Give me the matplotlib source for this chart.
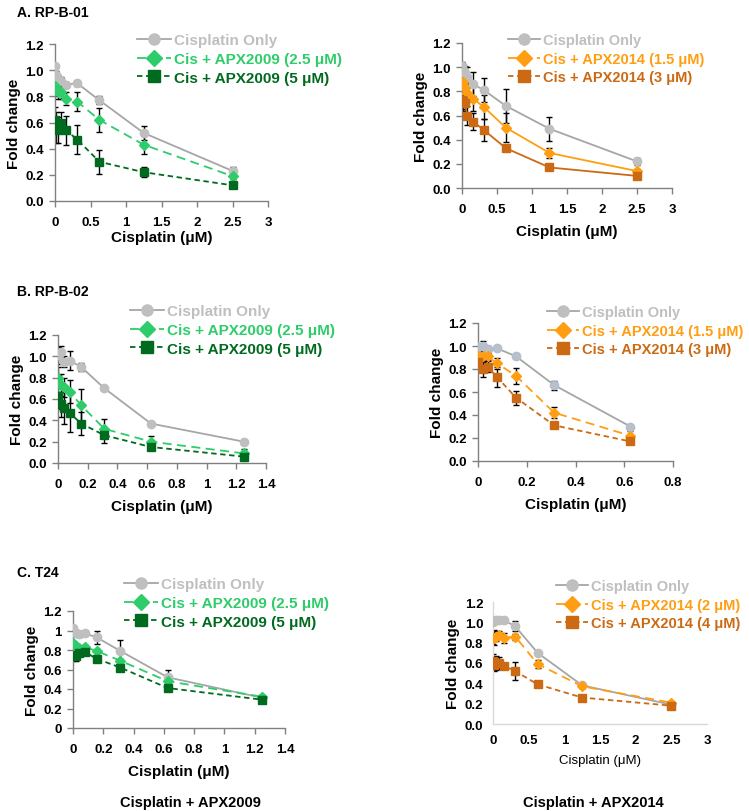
import matplotlib
matplotlib.use('Agg')
import matplotlib.pyplot as plt
from matplotlib.lines import Line2D

plt.rcParams['font.family'] = ['Liberation Sans', 'DejaVu Sans']

W, H = 749, 812

# concentrations (uM)
x_a = [0, 0.0195, 0.039, 0.078, 0.156, 0.3125, 0.625, 1.25, 2.5]
x_b = [0, 0.0195, 0.039, 0.078, 0.156, 0.3125, 0.625, 1.25]
x_b2 = [0, 0.0195, 0.039, 0.078, 0.156, 0.3125, 0.625]
x_c = [0, 0.0195, 0.039, 0.078, 0.156, 0.3125, 0.625, 1.25]
x_c2 = [0, 0.0195, 0.039, 0.078, 0.156, 0.3125, 0.625, 1.25, 2.5]

# A. RP-B-01, APX2009
a1_cis = [1.03, 0.96, 0.93, 0.92, 0.89, 0.90, 0.77, 0.52, 0.23]
a1_cis_err = [0.02, 0.03, 0.03, 0.03, 0.02, 0.02, 0.03, 0.05, 0.03]
a1_lo = [0.88, 0.85, 0.83, 0.83, 0.78, 0.76, 0.62, 0.43, 0.19]
a1_lo_err = [0.04, 0.05, 0.05, 0.05, 0.05, 0.07, 0.09, 0.07, 0.02]
a1_hi = [0.62, 0.56, 0.54, 0.60, 0.54, 0.47, 0.30, 0.22, 0.12]
a1_hi_err = [0.10, 0.12, 0.10, 0.08, 0.11, 0.11, 0.09, 0.04, 0.02]
# A. RP-B-01, APX2014
a2_cis = [1.01, 0.98, 0.95, 0.92, 0.86, 0.81, 0.68, 0.49, 0.22]
a2_cis_err = [0.03, 0.05, 0.06, 0.08, 0.10, 0.10, 0.14, 0.10, 0.03]
a2_lo = [0.87, 0.88, 0.83, 0.79, 0.74, 0.67, 0.50, 0.29, 0.14]
a2_lo_err = [0.05, 0.08, 0.08, 0.08, 0.10, 0.10, 0.12, 0.04, 0.02]
a2_hi = [0.73, 0.72, 0.70, 0.60, 0.55, 0.48, 0.33, 0.17, 0.10]
a2_hi_err = [0.08, 0.08, 0.08, 0.08, 0.07, 0.09, 0.02, 0.02, 0.02]

# B. RP-B-02
b1_cis = [1.01, 1.04, 0.95, 0.96, 0.90, 0.70, 0.37, 0.20]
b1_cis_err = [0.08, 0.06, 0.05, 0.09, 0.04, 0.01, 0.01, 0.01]
b1_lo = [0.80, 0.73, 0.71, 0.67, 0.54, 0.32, 0.20, 0.09]
b1_lo_err = [0.10, 0.10, 0.09, 0.11, 0.15, 0.09, 0.05, 0.04]
b1_hi = [0.63, 0.55, 0.52, 0.47, 0.37, 0.26, 0.15, 0.06]
b1_hi_err = [0.12, 0.12, 0.15, 0.18, 0.11, 0.07, 0.03, 0.02]
b2_cis = [0.99, 1.00, 0.97, 0.98, 0.91, 0.66, 0.30]
b2_cis_err = [0.02, 0.04, 0.03, 0.01, 0.01, 0.04, 0.01]
b2_lo = [0.91, 0.91, 0.91, 0.85, 0.74, 0.42, 0.22]
b2_lo_err = [0.03, 0.05, 0.03, 0.05, 0.07, 0.05, 0.04]
b2_hi = [0.86, 0.80, 0.82, 0.73, 0.55, 0.31, 0.17]
b2_hi_err = [0.06, 0.07, 0.05, 0.09, 0.06, 0.02, 0.01]

# C. T24
c1_cis = [1.03, 0.97, 0.96, 0.97, 0.93, 0.79, 0.52, 0.31]
c1_cis_err = [0.01, 0.03, 0.03, 0.02, 0.07, 0.11, 0.07, 0.03]
c1_lo = [0.87, 0.84, 0.82, 0.83, 0.79, 0.69, 0.48, 0.32]
c1_lo_err = [0.02, 0.02, 0.02, 0.02, 0.02, 0.02, 0.02, 0.02]
c1_hi = [0.74, 0.74, 0.77, 0.78, 0.71, 0.62, 0.41, 0.29]
c1_hi_err = [0.05, 0.05, 0.03, 0.03, 0.02, 0.02, 0.02, 0.02]
c2_cis = [1.00, 1.01, 1.02, 1.02, 1.02, 0.96, 0.70, 0.38, 0.19]
c2_cis_err = [0.01, 0.02, 0.03, 0.02, 0.02, 0.05, 0.01, 0.02, 0.01]
c2_lo = [0.85, 0.85, 0.86, 0.88, 0.85, 0.86, 0.59, 0.37, 0.21]
c2_lo_err = [0.06, 0.07, 0.04, 0.03, 0.05, 0.03, 0.04, 0.02, 0.01]
c2_hi = [0.62, 0.58, 0.60, 0.60, 0.57, 0.52, 0.39, 0.26, 0.18]
c2_hi_err = [0.07, 0.06, 0.07, 0.06, 0.02, 0.09, 0.01, 0.01, 0.01]

GRAY = '#BFBFBF'
GRAY_LINE = '#A6A6A6'
GREEN = '#2ECC6A'
DKGREEN = '#006B1E'
ORANGE = '#FF9E12'
DKORANGE = '#CC6A14'


def px_axes(fig, l, r, b, t):
    return fig.add_axes([l / W, 1 - b / H, (r - l) / W, (b - t) / H])


def style_axes(ax, xmax, xstep, yfmt='%.1f', light=False, tick_size=9.5):
    ax.set_xlim(0, xmax)
    ax.set_ylim(0, 1.2)
    ax.spines['top'].set_visible(False)
    ax.spines['right'].set_visible(False)
    col = '#D9D9D9' if light else '#808080'
    for s in ('left', 'bottom'):
        ax.spines[s].set_color(col)
        ax.spines[s].set_linewidth(1.0)
    ticks = [i * xstep for i in range(int(round(xmax / xstep)) + 1)]
    ax.set_xticks(ticks)
    ax.set_xticklabels(['%g' % t for t in ticks])
    yt = [0, 0.2, 0.4, 0.6, 0.8, 1.0, 1.2]
    ax.set_yticks(yt)
    if yfmt == 'g':
        ax.set_yticklabels(['%g' % v for v in yt])
    else:
        ax.set_yticklabels([yfmt % v for v in yt])
    tl = 0 if light else 4
    ax.tick_params(axis='both', direction='out', length=tl, width=1.0, color=col,
                   labelsize=tick_size)
    ax.tick_params(axis='x', pad=7)
    ax.tick_params(axis='y', pad=4 if not light else 7)
    for lab in ax.get_xticklabels() + ax.get_yticklabels():
        lab.set_fontweight('bold')


def draw_series(ax, x, y, err, color, marker, ls, ms, mfc=None, mec=None, lcolor=None):
    ax.errorbar(x, y, yerr=err, fmt='none', ecolor='black', elinewidth=1.0,
                capsize=2, capthick=1.0, zorder=2)
    ax.plot(x, y, color=lcolor or color, ls=ls, lw=1.3, marker=marker, ms=ms,
            mfc=mfc or color, mec=mec or color, zorder=3)


def add_legend(fig, labels, colors, markers, styles, left_px, top_px, lcolors=None, size=11):
    handles = []
    for i in range(3):
        lc = lcolors[i] if lcolors else colors[i]
        handles.append(Line2D([], [], color=lc, ls=styles[i], lw=1.3,
                              marker=markers[i], ms=8, mfc=colors[i], mec=colors[i]))
    leg = fig.legend(handles, labels, loc='upper left',
                     bbox_to_anchor=(left_px / W, 1 - top_px / H),
                     frameon=False, borderpad=0, borderaxespad=0,
                     handlelength=2.2, handletextpad=0.2, labelspacing=0.32,
                     prop={'size': size, 'weight': 'bold'})
    for t, c in zip(leg.get_texts(), colors):
        t.set_color(c)
    return leg


fig = plt.figure(figsize=(W / 100, H / 100), dpi=100)

labels_2009 = ['Cisplatin Only', 'Cis + APX2009 (2.5 \u03bcM)', 'Cis + APX2009 (5 \u03bcM)']
cols_2009 = [GRAY, GREEN, DKGREEN]
cols_2014 = [GRAY, ORANGE, DKORANGE]
mks = ['o', 'D', 's']
dash_lo = (0, (5, 3))
dash_hi = (0, (3, 2))
styles = ['-', dash_lo, dash_hi]

# ---- A left ----
ax = px_axes(fig, 55, 268, 202, 45)
style_axes(ax, 3, 0.5)
draw_series(ax, x_a, a1_cis, a1_cis_err, GRAY, 'o', '-', 6, lcolor=GRAY_LINE)
draw_series(ax, x_a, a1_lo, a1_lo_err, GREEN, 'D', dash_lo, 5)
draw_series(ax, x_a, a1_hi, a1_hi_err, DKGREEN, 's', dash_hi, 6)
ax.set_xlabel('Cisplatin (\u03bcM)', fontsize=11, fontweight='bold', labelpad=1)
ax.set_ylabel('Fold change', fontsize=11, fontweight='bold', labelpad=3)
add_legend(fig, labels_2009, cols_2009, mks, styles, 137, 34, [GRAY_LINE, GREEN, DKGREEN])

# ---- A right ----
ax = px_axes(fig, 462, 672, 189, 44)
style_axes(ax, 3, 0.5)
draw_series(ax, x_a, a2_cis, a2_cis_err, GRAY, 'o', '-', 6, lcolor=GRAY_LINE)
draw_series(ax, x_a, a2_lo, a2_lo_err, ORANGE, 'D', '-', 5)
draw_series(ax, x_a, a2_hi, a2_hi_err, DKORANGE, 's', '-', 6)
ax.set_xlabel('Cisplatin (\u03bcM)', fontsize=11, fontweight='bold', labelpad=6)
ax.set_ylabel('Fold change', fontsize=11, fontweight='bold', labelpad=3)
add_legend(fig, ['Cisplatin Only', 'Cis + APX2014 (1.5 \u03bcM)', 'Cis + APX2014 (3 \u03bcM)'],
           cols_2014, mks, styles, 508, 34, [GRAY_LINE, ORANGE, DKORANGE], size=10.5)

# ---- B left ----
ax = px_axes(fig, 58, 266, 464, 336)
style_axes(ax, 1.4, 0.2)
draw_series(ax, x_b, b1_cis, b1_cis_err, GRAY, 'o', '-', 6, lcolor=GRAY_LINE)
draw_series(ax, x_b, b1_lo, b1_lo_err, GREEN, 'D', dash_lo, 5)
draw_series(ax, x_b, b1_hi, b1_hi_err, DKGREEN, 's', dash_hi, 6)
ax.set_xlabel('Cisplatin (\u03bcM)', fontsize=11, fontweight='bold', labelpad=6)
ax.set_ylabel('Fold change', fontsize=11, fontweight='bold', labelpad=3)
add_legend(fig, labels_2009, cols_2009, mks, styles, 130, 305, [GRAY_LINE, GREEN, DKGREEN])

# ---- B right ----
ax = px_axes(fig, 478, 673, 462, 324)
style_axes(ax, 0.8, 0.2)
draw_series(ax, x_b2, b2_cis, b2_cis_err, GRAY, 'o', '-', 6, mec='#A9C0DC', lcolor=GRAY_LINE)
draw_series(ax, x_b2, b2_lo, b2_lo_err, ORANGE, 'D', dash_lo, 5)
draw_series(ax, x_b2, b2_hi, b2_hi_err, DKORANGE, 's', dash_hi, 6)
ax.set_xlabel('Cisplatin (\u03bcM)', fontsize=11, fontweight='bold', labelpad=6)
ax.set_ylabel('Fold change', fontsize=11, fontweight='bold', labelpad=3)
add_legend(fig, ['Cisplatin Only', 'Cis + APX2014 (1.5 \u03bcM)', 'Cis + APX2014 (3 \u03bcM)'],
           cols_2014, mks, styles, 547, 306, [GRAY_LINE, ORANGE, DKORANGE], size=10.5)

# ---- C left ----
ax = px_axes(fig, 73, 285, 729, 612)
style_axes(ax, 1.4, 0.2, yfmt='g')
draw_series(ax, x_c, c1_cis, c1_cis_err, GRAY, 'o', '-', 6, lcolor=GRAY_LINE)
draw_series(ax, x_c, c1_lo, c1_lo_err, GREEN, 'D', dash_lo, 5)
draw_series(ax, x_c, c1_hi, c1_hi_err, DKGREEN, 's', dash_hi, 6)
ax.set_xlabel('Cisplatin (\u03bcM)', fontsize=11, fontweight='bold', labelpad=6)
ax.set_ylabel('Fold change', fontsize=11, fontweight='bold', labelpad=3)
add_legend(fig, labels_2009, cols_2009, mks, styles, 124, 578, [GRAY_LINE, GREEN, DKGREEN])

# ---- C right ----
ax = px_axes(fig, 493, 707, 725, 603)
style_axes(ax, 3, 0.5, light=True)
draw_series(ax, x_c2, c2_cis, c2_cis_err, GRAY, 'o', '-', 6, lcolor=GRAY_LINE)
draw_series(ax, x_c2, c2_lo, c2_lo_err, ORANGE, 'D', dash_lo, 5)
draw_series(ax, x_c2, c2_hi, c2_hi_err, DKORANGE, 's', dash_hi, 6)
ax.set_xlabel('Cisplatin (\u03bcM)', fontsize=9.5, labelpad=6)
ax.set_ylabel('Fold change', fontsize=11, fontweight='bold', labelpad=3)
add_legend(fig, ['Cisplatin Only', 'Cis + APX2014 (2 \u03bcM)', 'Cis + APX2014 (4 \u03bcM)'],
           cols_2014, mks, styles, 556, 580, [GRAY_LINE, ORANGE, DKORANGE], size=10.5)

# panel titles
fig.text(17 / W, 1 - 13 / H, 'A. RP-B-01', fontsize=10, fontweight='bold', va='center')
fig.text(17 / W, 1 - 292 / H, 'B. RP-B-02', fontsize=10, fontweight='bold', va='center')
fig.text(17 / W, 1 - 573 / H, 'C. T24', fontsize=10, fontweight='bold', va='center')
fig.text(190 / W, 1 - 803 / H, 'Cisplatin + APX2009', fontsize=10.5, fontweight='bold',
         ha='center', va='center')
fig.text(593 / W, 1 - 803 / H, 'Cisplatin + APX2014', fontsize=10.5, fontweight='bold',
         ha='center', va='center')

fig.savefig('out.png', dpi=100)
